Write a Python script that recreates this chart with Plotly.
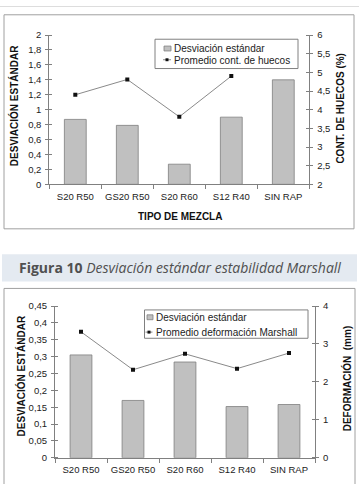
import plotly.graph_objects as go

W, H = 359, 484

# ---------------- data ----------------
categories = ["S20 R50", "GS20 R50", "S20 R60", "S12 R40", "SIN RAP"]

# chart 1
desv_estabilidad = [0.87, 0.79, 0.27, 0.90, 1.40]
prom_huecos = [4.40, 4.81, 3.81, 4.90, None]
y1_left_vals = [0, 0.2, 0.4, 0.6, 0.8, 1.0, 1.2, 1.4, 1.6, 1.8, 2.0]
y1_left_text = ["0", "0,2", "0,4", "0,6", "0,8", "1", "1,2", "1,4", "1,6", "1,8", "2"]
y1_right_vals = [2, 2.5, 3, 3.5, 4, 4.5, 5, 5.5, 6]
y1_right_text = ["2", "2,5", "3", "3,5", "4", "4,5", "5", "5,5", "6"]

# chart 2
desv_deformacion = [0.305, 0.170, 0.284, 0.152, 0.158]
prom_deformacion = [3.32, 2.32, 2.74, 2.35, 2.76]
y2_left_vals = [0, 0.05, 0.1, 0.15, 0.2, 0.25, 0.3, 0.35, 0.4, 0.45]
y2_left_text = ["0", "0,05", "0,1", "0,15", "0,2", "0,25", "0,3", "0,35", "0,4", "0,45"]
y2_right_vals = [0, 1, 2, 3, 4]
y2_right_text = ["0", "1", "2", "3", "4"]

legend_bar = "Desviación estándar"
legend_line1 = "Promedio cont. de huecos"
legend_line2 = "Promedio deformación Marshall"
caption_bold = "Figura 10"
caption_italic = "Desviación estándar estabilidad Marshall"

# ---------------- styling ----------------
FONT = "Liberation Sans, Arial, sans-serif"
BAR_FILL = "#c0c0c0"
BAR_LINE = "#7f7f7f"
AXIS = "#808080"
LINE_C = "#8a8a8a"


def px(x):
    return x / W


def py(y):
    return 1 - y / H


fig = go.Figure()

fig.add_trace(go.Bar(x=categories, y=desv_estabilidad, xaxis="x", yaxis="y",
                     marker=dict(color=BAR_FILL, line=dict(color=BAR_LINE, width=0.8)),
                     showlegend=False))
fig.add_trace(go.Scatter(x=categories, y=prom_huecos, xaxis="x", yaxis="y2",
                         mode="lines+markers", connectgaps=False,
                         line=dict(color=LINE_C, width=1),
                         marker=dict(symbol="square", size=4, color="#111111"),
                         showlegend=False))
fig.add_trace(go.Bar(x=categories, y=desv_deformacion, xaxis="x2", yaxis="y3",
                     marker=dict(color=BAR_FILL, line=dict(color=BAR_LINE, width=0.8)),
                     showlegend=False))
fig.add_trace(go.Scatter(x=categories, y=prom_deformacion, xaxis="x2", yaxis="y4",
                         mode="lines+markers",
                         line=dict(color=LINE_C, width=1),
                         marker=dict(symbol="square", size=4, color="#111111"),
                         showlegend=False))

tickfont = dict(family=FONT, size=9.5, color="#222222")


def xaxis_cfg(domain, anchor):
    return dict(domain=domain, anchor=anchor, type="category",
                showline=True, linecolor=AXIS, linewidth=1,
                ticks="outside", tickson="boundaries", ticklen=4, tickcolor=AXIS,
                tickfont=tickfont, tickangle=0, ticklabelstandoff=3, showgrid=False,
                zeroline=False, fixedrange=True)


def yaxis_cfg(domain, anchor, rng, vals, text, side="left", overlaying=None):
    d = dict(domain=domain, anchor=anchor, range=rng, side=side,
             tickmode="array", tickvals=vals, ticktext=text,
             showline=True, linecolor=AXIS, linewidth=1,
             ticks="outside", ticklen=3, tickcolor=AXIS,
             minor=dict(tickmode="array", tickvals=vals, ticks="inside",
                        ticklen=3, tickcolor=AXIS, showgrid=False),
             tickfont=tickfont, ticklabelstandoff=2,
             showgrid=False, zeroline=False, fixedrange=True)
    if overlaying:
        d["overlaying"] = overlaying
    return d


top_x = [px(49.3), px(309.3)]
top_y = [py(182.5), py(29.7)]
bot_x = [px(55), px(315)]
bot_y = [py(462.3), py(307)]

fig.update_layout(
    width=W, height=H,
    margin=dict(l=0, r=0, t=0, b=0),
    paper_bgcolor="white", plot_bgcolor="rgba(0,0,0,0)",
    bargap=0.58,
    showlegend=False,
    xaxis=xaxis_cfg(top_x, "y"),
    yaxis=yaxis_cfg(top_y, "x", [0, 2], y1_left_vals, y1_left_text),
    yaxis2=yaxis_cfg(top_y, "x", [2, 6], y1_right_vals, y1_right_text,
                     side="right", overlaying="y"),
    xaxis2=xaxis_cfg(bot_x, "y3"),
    yaxis3=yaxis_cfg(bot_y, "x2", [0, 0.45], y2_left_vals, y2_left_text),
    yaxis4=yaxis_cfg(bot_y, "x2", [0, 4], y2_right_vals, y2_right_text,
                     side="right", overlaying="y3"),
)

shapes = []
# thin line at very top
shapes.append(dict(type="line", xref="paper", yref="paper", x0=0, x1=1,
                   y0=py(0.5), y1=py(0.5), line=dict(color="#dddddd", width=1)))
# frames
shapes.append(dict(type="rect", xref="paper", yref="paper",
                   x0=px(4), x1=px(354), y0=py(228), y1=py(9),
                   line=dict(color="#a0a0a0", width=1), layer="below"))
shapes.append(dict(type="rect", xref="paper", yref="paper",
                   x0=px(4), x1=px(355), y0=py(495), y1=py(289),
                   line=dict(color="#a0a0a0", width=1), layer="below"))
# caption band
shapes.append(dict(type="rect", xref="paper", yref="paper",
                   x0=px(2), x1=px(357), y0=py(282), y1=py(254),
                   line=dict(width=0), fillcolor="#e4eaf1", layer="below"))

# legend 1
shapes.append(dict(type="rect", xref="paper", yref="paper",
                   x0=px(155), x1=px(298), y0=py(64), y1=py(34),
                   line=dict(color="#808080", width=1), fillcolor="white"))
shapes.append(dict(type="rect", xref="paper", yref="paper",
                   x0=px(164), x1=px(171), y0=py(46), y1=py(41),
                   line=dict(color=BAR_LINE, width=0.8), fillcolor=BAR_FILL))
shapes.append(dict(type="line", xref="paper", yref="paper",
                   x0=px(163), x1=px(171), y0=py(55), y1=py(55),
                   line=dict(color=LINE_C, width=1)))
shapes.append(dict(type="rect", xref="paper", yref="paper",
                   x0=px(165.5), x1=px(168.5), y0=py(56.5), y1=py(53.5),
                   line=dict(width=0), fillcolor="#111111"))
# legend 2
shapes.append(dict(type="rect", xref="paper", yref="paper",
                   x0=px(144.5), x1=px(308), y0=py(340), y1=py(311),
                   line=dict(color="#808080", width=1), fillcolor="white"))
shapes.append(dict(type="rect", xref="paper", yref="paper",
                   x0=px(147), x1=px(153), y0=py(321), y1=py(316),
                   line=dict(color=BAR_LINE, width=0.8), fillcolor=BAR_FILL))
shapes.append(dict(type="line", xref="paper", yref="paper",
                   x0=px(145.5), x1=px(152.5), y0=py(333.7), y1=py(333.7),
                   line=dict(color=LINE_C, width=1)))
shapes.append(dict(type="rect", xref="paper", yref="paper",
                   x0=px(147.5), x1=px(150.5), y0=py(335.2), y1=py(332.2),
                   line=dict(width=0), fillcolor="#111111"))
fig.update_layout(shapes=shapes)

ann = []
lf = dict(family=FONT, size=10, color="#222222")
ann.append(dict(text=legend_bar, x=px(172), y=py(43.5), xref="paper", yref="paper",
                xanchor="left", yanchor="middle", showarrow=False, font=lf))
ann.append(dict(text=legend_line1, x=px(172), y=py(55.5), xref="paper", yref="paper",
                xanchor="left", yanchor="middle", showarrow=False, font=lf))
ann.append(dict(text=legend_bar, x=px(154), y=py(318.5), xref="paper", yref="paper",
                xanchor="left", yanchor="middle", showarrow=False, font=lf))
ann.append(dict(text=legend_line2, x=px(154), y=py(334), xref="paper", yref="paper",
                xanchor="left", yanchor="middle", showarrow=False, font=lf))

tf = dict(family=FONT, size=10, color="#111111")
ann.append(dict(text="<b>DESVIACIÓN ESTÁNDAR</b>", x=px(13.5), y=py(102), xref="paper",
                yref="paper", textangle=-90, showarrow=False, font=tf,
                xanchor="center", yanchor="middle"))
ann.append(dict(text="<b>CONT. DE HUECOS (%)</b>", x=px(341), y=py(105), xref="paper",
                yref="paper", textangle=-90, showarrow=False, font=tf,
                xanchor="center", yanchor="middle"))
ann.append(dict(text="<b>TIPO DE MEZCLA</b>", x=px(180), y=py(215), xref="paper",
                yref="paper", showarrow=False, font=tf,
                xanchor="center", yanchor="middle"))
ann.append(dict(text="<b>DESVIACIÓN ESTÁNDAR</b>", x=px(21), y=py(379), xref="paper",
                yref="paper", textangle=-90, showarrow=False, font=tf,
                xanchor="center", yanchor="middle"))
ann.append(dict(text="<b>DEFORMACIÓN  (mm)</b>", x=px(347), y=py(381), xref="paper",
                yref="paper", textangle=-90, showarrow=False, font=tf,
                xanchor="center", yanchor="middle"))
ann.append(dict(text="<b>" + caption_bold + "</b> <i>" + caption_italic + "</i>",
                x=px(180), y=py(268), xref="paper", yref="paper", showarrow=False,
                font=dict(family="Open Sans, Noto Sans, sans-serif", size=14, color="#505050"),
                xanchor="center", yanchor="middle"))
fig.update_layout(annotations=ann)

fig.write_html("out.html")
